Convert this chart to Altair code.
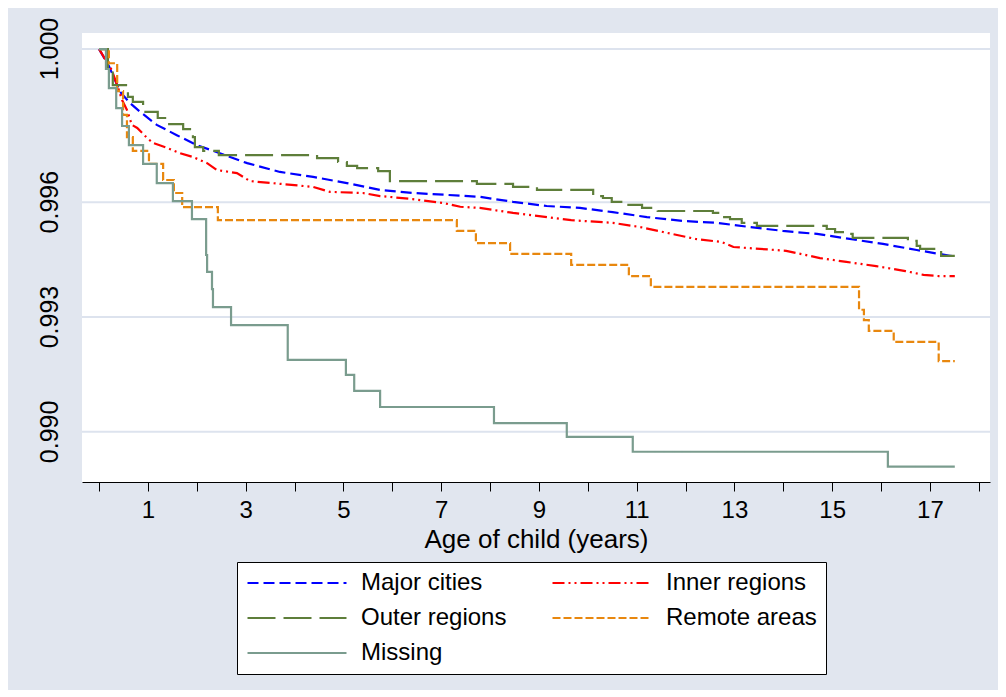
import altair as alt
import pandas as pd

# legend order (grid fills column by column): Major, Outer, Missing | Inner, Remote
series_names = ["Major cities", "Outer regions", "Missing", "Inner regions", "Remote areas"]
series_colors = ["#0000FF", "#5E7E3A", "#7A9C8E", "#FF0000", "#E8870E"]
series_dashes = [[11, 5], [28, 8], [1, 0], [12, 4, 2, 4, 2, 4], [8, 3]]

major_t = [0, 0.20, 0.43, 0.63, 0.84, 1.18, 1.59, 2.00, 2.47, 3.03, 3.70, 4.38, 5.07, 5.75,
           6.42, 7.12, 7.79, 8.47, 9.16, 9.84, 10.51, 11.21, 11.95, 12.64, 13.32, 13.99,
           14.69, 15.36, 16.04, 16.73, 17.41, 17.51]
major_s = [1.0, 0.99956, 0.99888, 0.99859, 0.99836, 0.99802, 0.99775, 0.99749, 0.99728,
           0.99702, 0.99679, 0.99666, 0.99650, 0.99632, 0.99624, 0.99619, 0.99614, 0.99601,
           0.99590, 0.99585, 0.99574, 0.99561, 0.99551, 0.99546, 0.99535, 0.99525, 0.99517,
           0.99504, 0.99491, 0.99475, 0.99460, 0.99460]

inner_t = [0, 0.26, 0.39, 0.47, 0.57, 0.67, 0.78, 0.98, 1.10, 1.39, 1.66, 1.92, 2.21, 2.41,
           2.82, 3.09, 3.70, 4.38, 4.72, 5.40, 5.75, 6.42, 7.04, 7.39, 7.79, 8.47, 9.66,
           10.51, 11.07, 11.54, 12.20, 12.74, 12.98, 14.06, 14.75, 15.29, 15.90, 16.50,
           16.87, 17.18, 17.51]
inner_s = [1.0, 0.99945, 0.99898, 0.99867, 0.99841, 0.99802, 0.99794, 0.99768, 0.99755,
           0.99742, 0.99728, 0.99718, 0.99702, 0.99684, 0.99676, 0.99655, 0.99648, 0.99640,
           0.99627, 0.99624, 0.99616, 0.99608, 0.99598, 0.99588, 0.99585, 0.99572, 0.99553,
           0.99546, 0.99535, 0.99522, 0.99504, 0.99496, 0.99483, 0.99473, 0.99454, 0.99444,
           0.99433, 0.99420, 0.99410, 0.99407, 0.99407]

outer_t = [0, 0.18, 0.28, 0.59, 0.69, 0.90, 1.20, 1.39, 1.72, 1.92, 1.96, 2.13, 2.45, 4.46,
           4.89, 5.07, 5.28, 5.71, 5.95, 7.73, 8.47, 8.96, 10.11, 10.31, 10.49, 10.72,
           11.11, 11.43, 12.56, 12.74, 12.91, 13.15, 13.46, 14.89, 15.06, 15.22, 15.42,
           16.55, 16.73, 16.80, 17.23, 17.51]
outer_s = [1.0, 0.99945, 0.99906, 0.99875, 0.99862, 0.99836, 0.99820, 0.99804, 0.99791,
           0.99770, 0.99744, 0.99734, 0.99723, 0.99715, 0.99705, 0.99695, 0.99689, 0.99681,
           0.99655, 0.99648, 0.99640, 0.99632, 0.99616, 0.99611, 0.99601, 0.99593, 0.99585,
           0.99577, 0.99572, 0.99561, 0.99556, 0.99546, 0.99538, 0.99530, 0.99522, 0.99517,
           0.99507, 0.99499, 0.99486, 0.99478, 0.99460, 0.99460]

remote_t = [0, 0.20, 0.37, 0.49, 0.57, 0.69, 1.02, 1.31, 1.53, 1.70, 2.43, 7.32, 7.71, 8.41,
            9.66, 10.84, 11.29, 15.55, 15.65, 15.75, 16.26, 17.18, 17.51]
remote_s = [1.0, 0.99963, 0.99890, 0.99828, 0.99770, 0.99734, 0.99700, 0.99658, 0.99624,
            0.99587, 0.99553, 0.99525, 0.99493, 0.99465, 0.99436, 0.99407, 0.99379, 0.99319,
            0.99292, 0.99264, 0.99235, 0.99185, 0.99185]

missing_t = [0, 0.14, 0.20, 0.35, 0.47, 0.61, 0.90, 1.18, 1.51, 1.90, 2.19, 2.21, 2.31, 2.33,
             2.70, 3.86, 5.05, 5.22, 5.75, 8.08, 9.57, 10.92, 16.14, 17.51]
missing_s = [1.0, 0.99948, 0.99898, 0.99846, 0.99799, 0.99749, 0.99700, 0.99650, 0.99603,
             0.99556, 0.99462, 0.99418, 0.99373, 0.99326, 0.99279, 0.99188, 0.99149, 0.99107,
             0.99065, 0.99023, 0.98987, 0.98948, 0.98909, 0.98909]

y_labels = [1.000, 0.996, 0.993, 0.990]
y_ticks = [0.990, 0.991, 0.992, 0.993, 0.994, 0.995, 0.996, 0.997, 0.998, 0.999, 1.000]
x_ticks = list(range(0, 19))


def frame(name, t, s):
    return pd.DataFrame({"age": t, "surv": s, "group": name})


smooth_df = pd.concat([frame("Major cities", major_t, major_s),
                       frame("Inner regions", inner_t, inner_s)], ignore_index=True)
step_df = pd.concat([frame("Outer regions", outer_t, outer_s),
                     frame("Remote areas", remote_t, remote_s),
                     frame("Missing", missing_t, missing_s)], ignore_index=True)
smooth_df["order"] = smooth_df.index
step_df["order"] = step_df.index

W, H = 908, 449
BG = "#E1E6EF"
FONT = "Liberation Sans, Arial"

x_scale = alt.Scale(domain=[-0.35, 18.23], nice=False, zero=False)
y_scale = alt.Scale(domain=[0.98869, 1.00042], nice=False, zero=False)

bg = alt.Chart(pd.DataFrame({"a": [0]})).mark_rect(color=BG, clip=False).encode(
    x=alt.value(-74), x2=alt.value(W + 8), y=alt.value(-25), y2=alt.value(H + 208))
plotbg = alt.Chart(pd.DataFrame({"a": [0]})).mark_rect(color="white").encode(
    x=alt.value(0), x2=alt.value(W), y=alt.value(0), y2=alt.value(H))

label_df = pd.DataFrame({"g": y_labels})
grid = alt.Chart(label_df).mark_rule(color="#DDE3EE", strokeWidth=2).encode(
    y=alt.Y("g:Q", scale=y_scale, axis=None))
ylab = alt.Chart(label_df).mark_text(
    angle=270, align="center", baseline="bottom", font=FONT, fontSize=25,
    color="black", clip=False).encode(
    y=alt.Y("g:Q", scale=y_scale, axis=None),
    x=alt.value(-19),
    text=alt.Text("g:Q", format=".3f"))

x_enc = alt.X("age:Q", scale=x_scale,
              axis=alt.Axis(values=x_ticks, title="Age of child (years)",
                            labelExpr="datum.value % 2 == 1 ? datum.label : ''",
                            grid=False, domainColor="black", tickColor="black", tickSize=9,
                            labelFont=FONT, labelFontSize=24, labelColor="black", labelPadding=7,
                            labelOverlap=False, labelFlush=False,
                            titleFont=FONT, titleFontSize=26, titleFontWeight="normal",
                            titleColor="black", titlePadding=4, zindex=1))
y_enc = alt.Y("surv:Q", scale=y_scale,
              axis=alt.Axis(values=y_ticks, title=None, grid=False, labels=False,
                            domainColor="black", tickColor="black", tickSize=10, zindex=1))
color_enc = alt.Color("group:N", scale=alt.Scale(domain=series_names, range=series_colors),
                      legend=alt.Legend(title=None, orient="none", legendX=155, legendY=529,
                                        columns=2, symbolType="stroke", symbolSize=9800,
                                        symbolStrokeWidth=2.2, clipHeight=24, rowPadding=11,
                                        columnPadding=44, labelOffset=13, symbolOffset=0,
                                        labelFont=FONT, labelFontSize=24,
                                        labelColor="black", padding=9, strokeColor="black",
                                        fillColor="white", labelLimit=300))
dash_enc = alt.StrokeDash("group:N", scale=alt.Scale(domain=series_names, range=series_dashes),
                          legend=None)

smooth_lines = alt.Chart(smooth_df).mark_line(interpolate="linear", strokeWidth=2.2).encode(
    x=x_enc, y=y_enc, color=color_enc, strokeDash=dash_enc, order="order:Q")
step_lines = alt.Chart(step_df).mark_line(interpolate="step-after", strokeWidth=2.2).encode(
    x=x_enc, y=y_enc, color=color_enc, strokeDash=dash_enc, order="order:Q")

chart = alt.layer(bg, plotbg, grid, smooth_lines, step_lines, ylab).properties(
    width=W, height=H,
    padding={"left": 82, "top": 33, "right": 16, "bottom": 215},
    autosize=alt.AutoSizeParams(type="none"),
    background="white",
).configure_view(stroke=None)

chart.save("out.html", embed_options={"renderer": "svg", "actions": False})
